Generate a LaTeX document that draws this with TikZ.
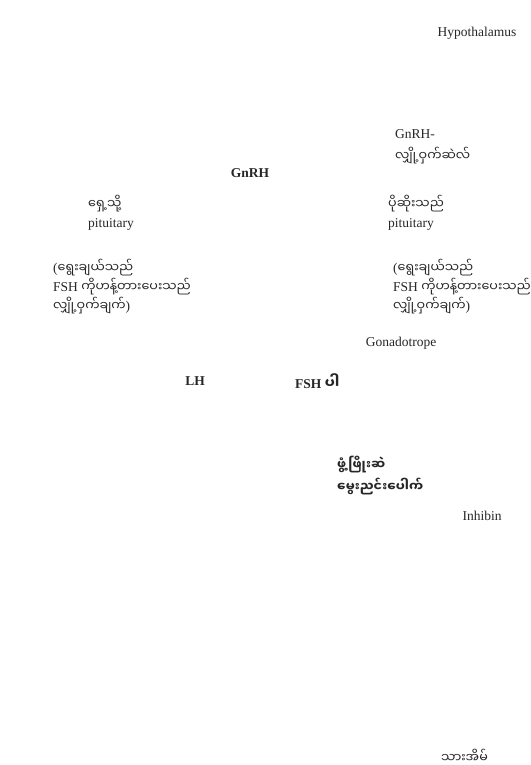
\documentclass[tikz,border=0pt]{standalone}
\usepackage{fontspec}
\setmainfont{Liberation Serif}
\newfontfamily\mmfont[Script=Myanmar,Scale=0.94]{Noto Sans Myanmar UI}
\newcommand{\mm}[1]{{\mmfont #1}}
\begin{document}
\begin{tikzpicture}[x=1pt,y=-1pt,
  lbl/.style={inner sep=0pt, font=\fontsize{13.5}{19}\selectfont, text=black!85},
  blbl/.style={lbl, font=\fontsize{13.5}{19}\selectfont\bfseries},
  lft/.style={anchor=west, align=left}]
\useasboundingbox (0,0) rectangle (530,765);

% upper part: hypothalamus and pituitary
\node[lbl] (hypo) at (477,33) {Hypothalamus};
\node[lbl,lft] (gnrhcell) at (395,147) {GnRH-\\[3pt]\mm{လျှို့ဝှက်ဆဲလ်}};
\node[blbl] (gnrh) at (250,173) {GnRH};
\node[lbl,lft] (antpit) at (88,213) {\mm{ရှေ့သို့}\\pituitary};
\node[lbl,lft] (postpit) at (388,213) {\mm{ပိုဆိုးသည်}\\pituitary};

% secretion notes
\node[lbl,lft] (noteL) at (53,287) {(\mm{ရွေးချယ်သည်}\\FSH \mm{ကိုဟန့်တားပေးသည်}\\\mm{လျှို့ဝှက်ချက်})};
\node[lbl,lft] (noteR) at (393,287) {(\mm{ရွေးချယ်သည်}\\FSH \mm{ကိုဟန့်တားပေးသည်}\\\mm{လျှို့ဝှက်ချက်})};

% gonadotrope and hormones
\node[lbl] (gonado) at (401,343) {Gonadotrope};
\node[blbl] (lh) at (195,381) {LH};
\node[blbl,anchor=west] (fsh) at (295,381) {FSH {\mmfont\fontsize{15}{19}\selectfont ပါ}};

% ovary follicle, inhibin, uterus
\node[blbl,lft] (follicle) at (337,476) {\mm{ဖွံ့ဖြိုးဆဲ}\\[3pt]\mm{မွေးညင်းပေါက်}};
\node[lbl] (inhibin) at (482,516) {Inhibin};
\node[lbl,anchor=west] (uterus) at (441,756) {\mm{သားအိမ်}};
\end{tikzpicture}
\end{document}
